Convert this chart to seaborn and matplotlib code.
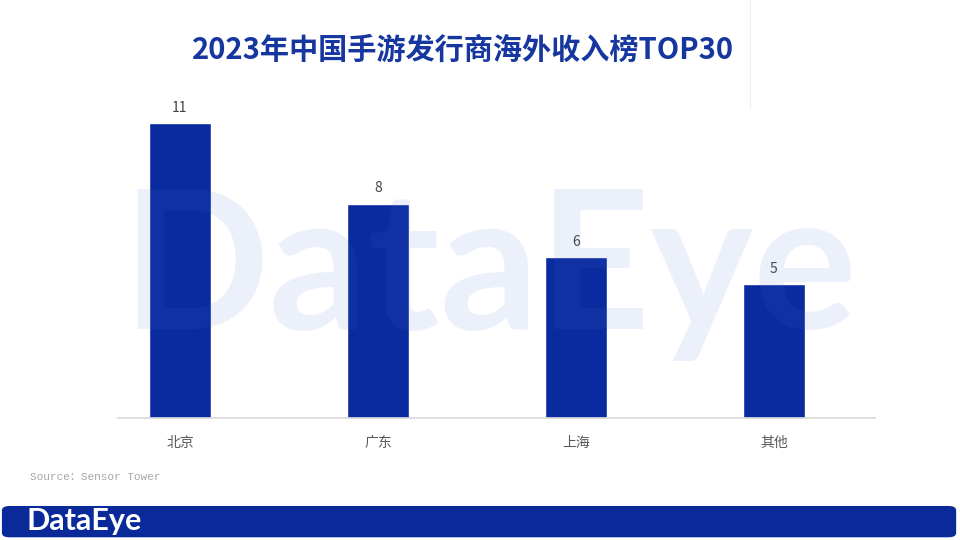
import matplotlib
matplotlib.use("Agg")
import matplotlib.pyplot as plt
import seaborn as sns
import pandas as pd
from matplotlib.patches import FancyBboxPatch

# data
regions = ["北京", "广东", "上海", "其他"]
counts = [11, 8, 6, 5]
title = "2023年中国手游发行商海外收入榜TOP30"
source = "Source：Sensor Tower"

sns.set_theme(style="white")
plt.rcParams["font.family"] = ["Noto Sans CJK SC", "DejaVu Sans"]

df = pd.DataFrame({"region": regions, "count": counts})

fig = plt.figure(figsize=(9.6, 5.4), dpi=100)
ax = fig.add_axes([0.1229, 0.2259, 0.7885, 0.5956])

sns.barplot(data=df, x="region", y="count", color="#0a2aa0", width=0.313,
            saturation=1, ax=ax, zorder=2)

for i, v in enumerate(counts):
    ax.annotate(str(v), (i, v), xytext=(0, 6), textcoords="offset points",
                ha="center", va="bottom", fontsize=10, color="#444444")

ax.set_xlim(-0.313, 3.51)
ax.set_ylim(0, 12)
ax.set_xlabel("")
ax.set_ylabel("")
ax.set_yticks([])
for s in ["top", "right", "left"]:
    ax.spines[s].set_visible(False)
ax.spines["bottom"].set_color("#d9d9d9")
ax.spines["bottom"].set_linewidth(1.2)
ax.tick_params(axis="x", length=0, pad=13, labelsize=10, labelcolor="#595959")

# translucent watermark over the plot
fig.text(0.51, 0.39, "DataEye", fontsize=140, color="#4a70d0", alpha=0.1,
         ha="center", va="baseline", fontweight="bold", zorder=5,
         family=["Lato", "DejaVu Sans"])

fig.text(0.482, 0.907, title, ha="center", va="center", fontsize=21,
         fontweight="bold", color="#1636a0")

fig.text(0.031, 0.117, source, ha="left", va="center", fontsize=8,
         color="#a6a6a6", family=["Liberation Mono", "Noto Sans CJK SC"])

# faint vertical artifact near the title
fig.add_artist(plt.Line2D([0.781, 0.781], [0.80, 1.0], color="#eeeeee", lw=0.8))

# bottom banner
banner = FancyBboxPatch((0.002, 0.005), 0.994, 0.058, transform=fig.transFigure,
                        boxstyle="round,pad=0,rounding_size=0.008",
                        facecolor="#0a2a99", edgecolor="none", zorder=1)
fig.add_artist(banner)
fig.text(0.028, 0.035, "DataEye", ha="left", va="center", fontsize=22,
         fontweight="bold", color="white", family=["Lato", "DejaVu Sans"], zorder=3)

fig.savefig("out.png", dpi=100, facecolor="white")
